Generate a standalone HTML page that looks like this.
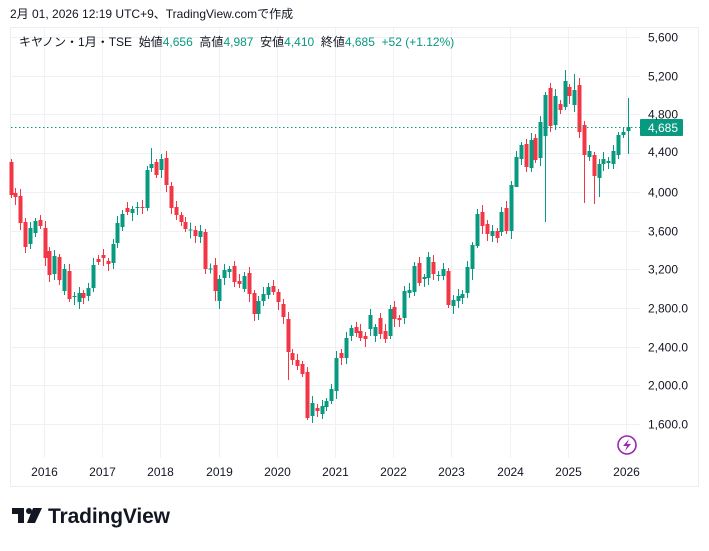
<!DOCTYPE html>
<html><head><meta charset="utf-8"><style>
body{margin:0;background:#fff;width:709px;height:546px;overflow:hidden;font-family:"Liberation Sans","Noto Sans CJK JP",sans-serif;}
</style></head><body>
<svg id="s" width="709" height="546" xmlns="http://www.w3.org/2000/svg" font-family="Liberation Sans, Noto Sans CJK JP, sans-serif">
<rect x="10.5" y="27.5" width="688" height="459" fill="#fff" stroke="#eceef2"/>
<g id="grid" stroke="#f0f1f4" stroke-width="1"></g>
<g id="c"></g>
<line x1="11" y1="127.5" x2="640" y2="127.5" stroke="#089981" stroke-dasharray="1.5,2.5"/>
<rect x="640" y="119" width="43" height="17" fill="#089981" rx="1"/>
<text x="648" y="132" font-size="12" fill="#fff">4,685</text>
<g id="ax" font-size="12" fill="#131722"></g>
<circle cx="627" cy="445" r="9" fill="#fff" stroke="#9c27b0" stroke-width="1.6"/>
<path d="M629 439 L623 446 L627 446 L625 451 L631 444 L627 444 Z" fill="#9c27b0"/>
<text x="10" y="18" font-size="12" fill="#131722">2月 01, 2026 12:19 UTC+9、TradingView.comで作成</text>
<text x="19" y="46" font-size="12" fill="#131722" xml:space="preserve">キヤノン・1月・TSE  始値<tspan fill="#089981">4,656</tspan>  高値<tspan fill="#089981">4,987</tspan>  安値<tspan fill="#089981">4,410</tspan>  終値<tspan fill="#089981">4,685</tspan>  <tspan fill="#089981">+52 (+1.12%)</tspan></text>
<g fill="#131722">
<path d="M12 508 H24 V523 H18 V514 H12 Z"/>
<circle cx="29" cy="511" r="3"/>
<path d="M33 508 H42 L35 523 H27 Z"/>
</g>
<text x="48" y="523" font-size="21" font-weight="bold" fill="#131722" textLength="122">TradingView</text>
</svg>
<script>
const NS="http://www.w3.org/2000/svg";
function el(p,t,a,txt){const e=document.createElementNS(NS,t);for(const k in a)e.setAttribute(k,a[k]);if(txt)e.textContent=txt;p.appendChild(e);return e;}
const g=document.getElementById('grid'),ax=document.getElementById('ax'),c=document.getElementById('c');
const prices=[5600,5200,4800,4400,4000,3600,3200,2800,2400,2000,1600];
const labs=["5,600","5,200","4,800","4,400","4,000","3,600","3,200","2,800.0","2,400.0","2,000.0","1,600.0"];
prices.forEach((p,i)=>{const y=Math.round(37+(5600-p)*0.09675)+0.5;el(g,'line',{x1:11,x2:640,y1:y,y2:y});
 if(i!==3)el(ax,'text',{x:648,y:y+4},labs[i]);});
el(ax,'text',{x:648,y:156},"4,400");
const yrs=[2016,2017,2018,2019,2020,2021,2022,2023,2024,2025,2026];
yrs.forEach((yr,i)=>{const x=Math.round(44+i*58.2)+0.5;el(g,'line',{x1:x,x2:x,y1:28,y2:458});el(ax,'text',{x:x,y:476,'text-anchor':'middle'},String(yr));});
const B=[[162,195],[193,197],[196,223],[222,247],[244,228],[233,221],[220,226],[228,258],[251,275],[274,256],[257,280],[291,269],[271,299],[297,296],[302,293],[293,298],[296,288],[288,265],[259,262],[255,258],[261,264],[263,244],[243,223],[227,214],[208,212],[213,209],[208,207],[207,208],[208,170],[168,164],[162,175],[170,159],[158,185],[186,208],[207,215],[215,222],[222,229],[230.5,229.5],[230,236],[237,231],[232,269],[269.5,268.5],[265,291],[301,279],[278,270],[272,269],[266,282],[281,284],[289,276],[273,294],[293,314],[314,301],[301,294],[295,287],[286,292],[292,302],[304,317],[319,352],[353,360],[360,366],[364,374],[372,418],[416,403],[408,411],[414,406],[407,401],[401,389],[391,358],[353,358],[358,338],[336,328],[327,333],[331,338],[336,339],[329,315],[336,327],[318,334],[331,339],[336,309],[307,319],[318,320],[318,291],[293,290],[292,266],[263,283],[279,277],[278,257],[262,274],[276,275],[276,269],[271,305],[306,300],[301,296],[298,294],[293,267],[269,245],[246,214],[212,226],[224,234],[236,231],[231,238],[232,212],[208,231],[231,185],[187,157],[159,145],[144,167],[168,140],[138,160],[158,122],[136,95],[88,126],[125,96],[104,110],[107,81],[87,96],[105,90],[85,132],[125,155],[157,151],[155,176],[178,164],[164,159],[163,161],[164,151],[155,135],[135,132],[131,127]];
const W={110:[null,222],114:[70,null],116:[74,null],120:[null,204],121:[null,197],127:[98,154],104:[null,178],61:[null,420],57:[null,380],28:[null,211],29:[148,null],42:[null,301],118:[null,203],96:[null,248],95:[null,280]};
B.forEach((b,i)=>{const x=10.5+i*4.86;const o=b[0],cl=b[1];const up=cl<o;const col=up?'#089981':'#F23645';
 let top=Math.min(o,cl),bot=Math.max(o,cl);let hi=top-3-(i*7%5),lo=bot+3+(i*11%6);
 if(W[i]){if(W[i][0]!=null)hi=W[i][0];if(W[i][1]!=null)lo=W[i][1];}
 const xr=Math.round(x);
 el(c,'rect',{x:xr,y:hi,width:1,height:lo-hi,fill:col});
 el(c,'rect',{x:xr-1.5,y:top,width:4,height:Math.max(1,bot-top),fill:col});
});
</script>
</body></html>
